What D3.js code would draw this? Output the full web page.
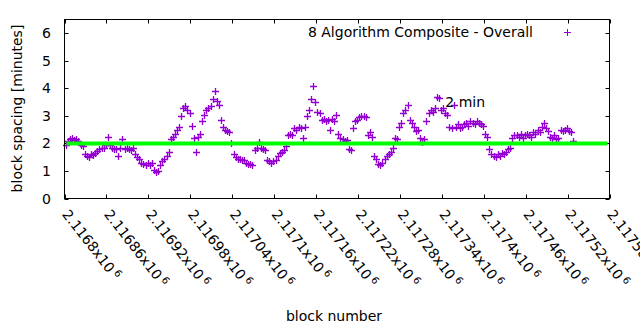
<!DOCTYPE html>
<meta charset="utf-8">
<script src="https://d3js.org/d3.v7.min.js"></script>
<style>
  body { margin: 0; background: #fff; }
  text { font-family: "DejaVu Sans", sans-serif; font-size: 14px; fill: #000; }
</style>
<div id="chart"></div>
<script>
  // block spacing (minutes), one value every 3 blocks starting at blockStart
  const blockStart = 2116802;
  const blockStep = 3;
  const spacing = [
    1.95, 2.1, 2.15, 2.2, 2.12,   2.15, 2.1, 1.95, 1.92, 1.6,
    1.55, 1.5, 1.62, 1.58, 1.65,  1.72, 1.78, 1.82, 1.85, 1.95,
    2.22, 1.95, 1.85, 1.8, 1.78,  1.55, 1.82, 2.15, 1.8, 1.85,
    1.8, 1.75, 1.85, 1.6, 1.5,    1.45, 1.3, 1.25, 1.2, 1.28,
    1.22, 1.28, 1.05, 0.95, 1.0,  1.2, 1.35, 1.45, 1.55, 1.7,
    2.15, 2.25, 2.35, 2.5, 2.6,   3.0, 3.3, 3.35, 3.2, 3.1,
    2.65, 2.2, 1.7, 2.25, 2.35,   2.8, 3.05, 3.2, 3.3, 3.35,
    3.6, 3.9, 3.55, 3.4, 2.85,    2.6, 2.5, 2.45, 2.4, 2.0,
    1.6, 1.5, 1.45, 1.45, 1.4,    1.38, 1.3, 1.25, 1.25, 1.2,
    1.75, 1.85, 2.05, 1.85, 1.8,  1.75, 1.4, 1.35, 1.3, 1.35,
    1.4, 1.55, 1.65, 1.7, 1.75,   1.9, 2.3, 2.35, 2.3, 2.55,
    2.5, 2.6, 2.55, 2.2, 2.6,     3.0, 3.2, 3.6, 4.07, 3.5,
    3.15, 3.1, 2.85, 2.9, 2.8,    2.85, 2.5, 2.9, 2.8, 3.05,
    2.35, 2.2, 2.15, 2.1, 2.12,   1.8, 1.75, 2.55, 2.8, 2.85,
    2.95, 3.0, 3.0, 2.95, 2.3,    2.4, 2.25, 1.55, 1.45, 1.25,
    1.2, 1.3, 1.45, 1.55, 1.6,    1.7, 1.85, 2.2, 2.15, 2.6,
    2.75, 3.1, 3.2, 3.4, 2.85,    2.75, 2.6, 2.45, 2.5, 2.2,
    2.05, 2.15, 2.8, 3.1, 3.2,    3.15, 3.3, 3.7, 3.65, 3.2,
    3.3, 3.1, 3.05, 2.6, 2.55,    3.4, 2.6, 2.7, 2.55, 2.6,
    2.7, 2.75, 2.65, 2.8, 2.75,   2.7, 2.8, 2.75, 2.7, 2.65,
    2.35, 2.25, 1.8, 1.6, 1.55,   1.5, 1.6, 1.55, 1.65, 1.6,
    1.7, 1.8, 1.85, 2.2, 2.3,     2.3, 2.25, 2.35, 2.2, 2.3,
    2.35, 2.3, 2.25, 2.4, 2.35,   2.5, 2.4, 2.6, 2.75, 2.55,
    2.45, 2.25, 2.2, 2.3, 2.15,   2.2, 2.5, 2.45, 2.5, 2.55,
    2.45, 2.4, 2.1
  ];

  const target = 2;                       // 2 minute reference line
  const targetLabel = {x: 2117345, y: 3.5, text: "2 min"};
  const xTicks = d3.range(2116800, 2117581, 60);
  const yTicks = [0, 1, 2, 3, 4, 5, 6];
  const seriesName = "8 Algorithm Composite - Overall";

  const data = spacing.map((v, i) => ({block: blockStart + i * blockStep, value: v}));

  const W = 640, H = 330;
  const m = {left: 64.5, right: 609.5, top: 19.5, bottom: 198.5};

  const svg = d3.select("#chart").append("svg")
    .attr("width", W).attr("height", H);

  const x = d3.scaleLinear().domain([2116800, 2117580]).range([m.left, m.right]);
  const y = d3.scaleLinear().domain([0, 6.5]).range([m.bottom, m.top]);

  const purple = "#9400d3";
  const tick = 4;
  const cross = "M-3.5,0H3.5M0,-3.5V3.5";

  // y ticks on both sides + labels
  const yg = svg.append("g");
  yTicks.forEach(t => {
    const py = Math.round(y(t)) + 0.5;
    yg.append("line").attr("x1", m.left).attr("x2", m.left + tick).attr("y1", py).attr("y2", py).attr("stroke", "#000");
    yg.append("line").attr("x1", m.right - tick).attr("x2", m.right).attr("y1", py).attr("y2", py).attr("stroke", "#000");
    yg.append("text").attr("x", 51).attr("y", y(t)).attr("dy", "0.36em")
      .attr("text-anchor", "end").text(t);
  });

  // x ticks top and bottom, rotated labels with x10^6 suffix
  const xg = svg.append("g");
  xTicks.forEach(t => {
    const px = Math.round(x(t)) + 0.5;
    xg.append("line").attr("x1", px).attr("x2", px).attr("y1", m.bottom).attr("y2", m.bottom - tick).attr("stroke", "#000");
    xg.append("line").attr("x1", px).attr("x2", px).attr("y1", m.top).attr("y2", m.top + tick).attr("stroke", "#000");
    const lab = xg.append("text")
      .attr("transform", `translate(${x(t) - 3},${m.bottom + 16}) rotate(52)`);
    lab.append("tspan").text(+(t / 1e6).toFixed(5) + "x10");
    lab.append("tspan").attr("dx", 3).attr("dy", -5).style("font-size", "10px").text("6");
  });

  // points
  svg.append("g")
    .selectAll("path")
    .data(data)
    .join("path")
      .attr("transform", d => `translate(${Math.round(x(d.block)) + 0.5},${Math.round(y(d.value)) + 0.5})`)
      .attr("d", cross)
      .attr("stroke", purple)
      .attr("stroke-width", 1.3)
      .attr("fill", "none");

  // 2 minute target line
  svg.append("line")
    .attr("x1", x.range()[0] + 2).attr("x2", x.range()[1] - 2)
    .attr("y1", y(target)).attr("y2", y(target))
    .attr("stroke", "#00ff00").attr("stroke-width", 4);

  svg.append("text")
    .attr("x", x(targetLabel.x)).attr("y", y(targetLabel.y)).attr("dy", "0.36em")
    .text(targetLabel.text);

  // border
  svg.append("rect")
    .attr("x", m.left).attr("y", m.top)
    .attr("width", m.right - m.left).attr("height", m.bottom - m.top)
    .attr("fill", "none").attr("stroke", "#000");

  // legend
  svg.append("text").attr("x", 533).attr("y", 37).attr("text-anchor", "end").text(seriesName);
  svg.append("path")
    .attr("transform", "translate(567.5,32.5)")
    .attr("d", cross)
    .attr("stroke", purple).attr("fill", "none");

  // axis titles
  svg.append("text")
    .attr("transform", "translate(22,108.5) rotate(-90)")
    .attr("text-anchor", "middle")
    .text("block spacing [minutes]");
  svg.append("text")
    .attr("x", 334).attr("y", 320.5)
    .attr("text-anchor", "middle")
    .text("block number");
</script>
